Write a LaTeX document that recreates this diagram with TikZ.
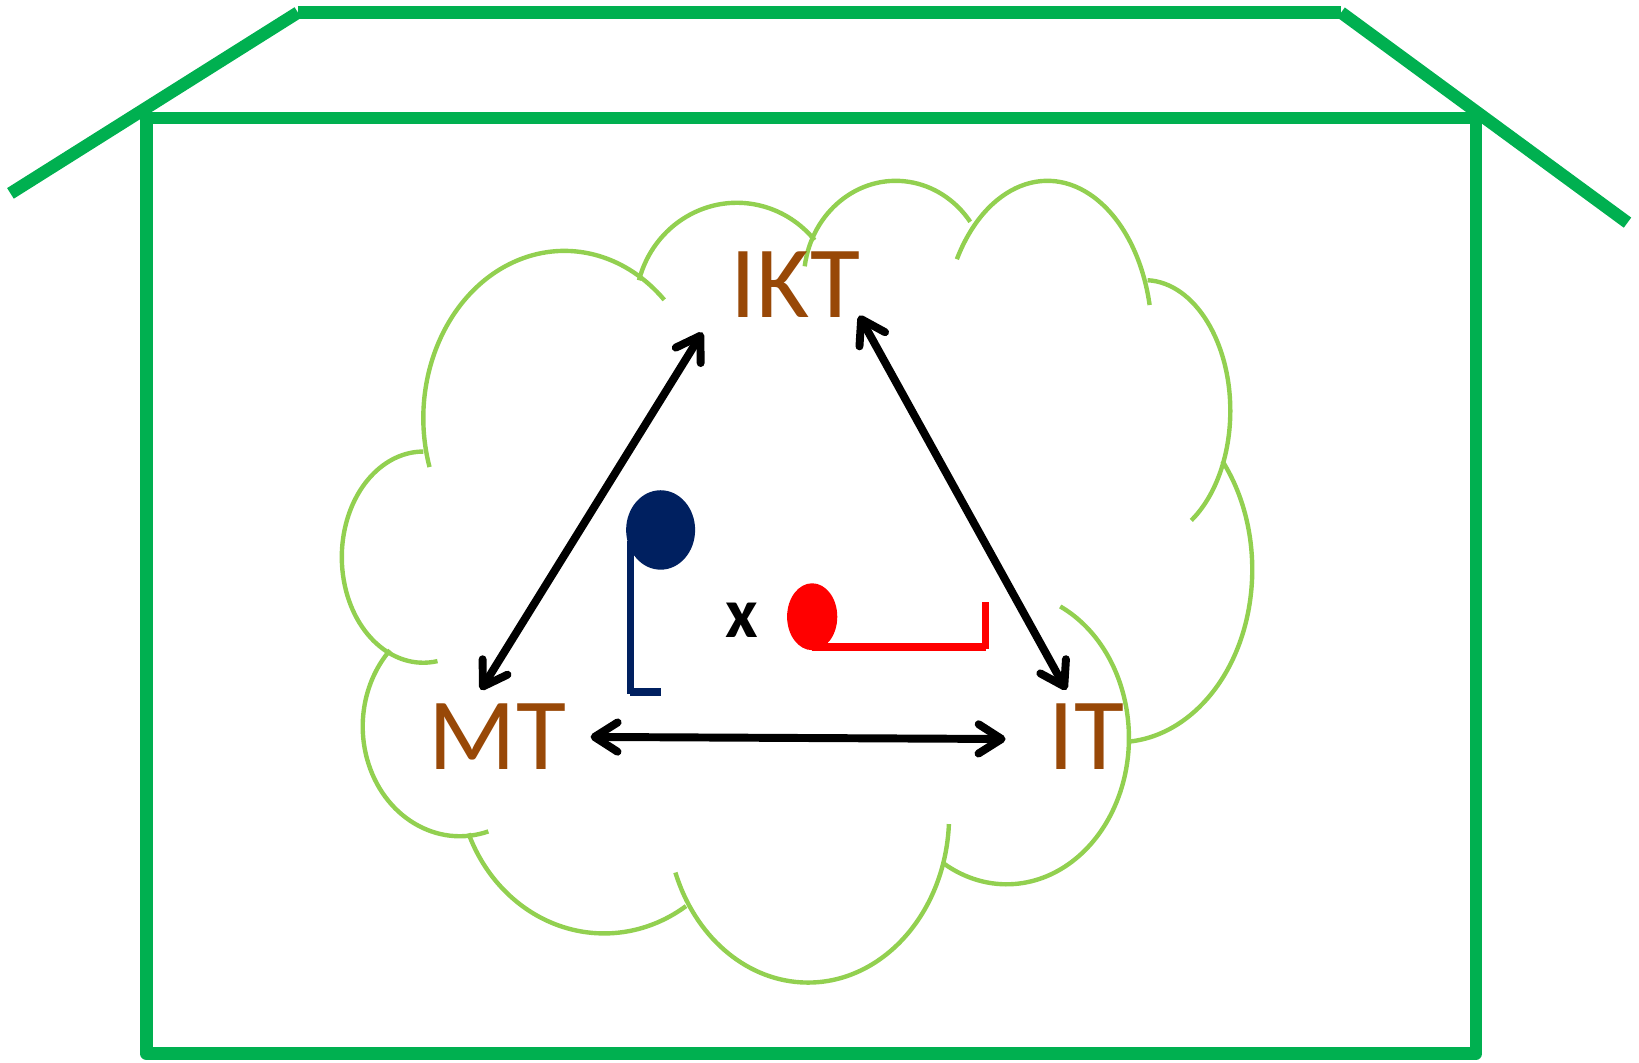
\documentclass[tikz,border=0pt]{standalone}
\usepackage{fontspec}
\setmainfont{Carlito}
\usetikzlibrary{arrows.meta}
\definecolor{housegreen}{HTML}{00B050}
\definecolor{cloudgreen}{HTML}{92D050}
\definecolor{fieldbrown}{HTML}{984807}
\definecolor{navyblue}{HTML}{002060}
% one bump of the cloud: centre, x radius, y radius, start, end
\newcommand{\puff}[5]{\draw[cloudline] ([shift={(#4:#2 and #3)}]#1) arc[start angle=#4,end angle=#5,x radius=#2,y radius=#3];}
\begin{document}
\begin{tikzpicture}[x=0.5pt,y=-0.5pt,
    house/.style={housegreen,line width=6pt},
    cloudline/.style={cloudgreen,line width=2.1pt},
    fieldname/.style={fieldbrown,inner sep=0pt,font=\fontsize{49pt}{49pt}\selectfont},
    link/.style={line width=3.8pt,line cap=round,
      {Straight Barb[round,length=11pt,width=14pt]}-{Straight Barb[round,length=11pt,width=14pt]}}]
  \useasboundingbox (0,0) rectangle (1568,1016);
  % house
  \draw[house] (10,185) -- (285,12);
  \draw[house] (285,12) -- (1283,12);
  \draw[house] (1283,12) -- (1557,213);
  \draw[house,line join=round] (140,113) rectangle (1412,1008);
  % cloud
  \puff{540,400}{135}{160}{163}{315}
  \puff{705,294}{97}{100}{195}{320}
  \puff{857,268}{88}{95}{188}{324}
  \puff{1002,323}{100}{150}{210}{348}
  \puff{1095,393}{82}{125}{272}{417}
  \puff{1070,545}{128}{165}{321}{445}
  \puff{963,706}{117}{140}{296}{481}
  \puff{773,780}{135}{160}{3}{160}
  \puff{578,740}{140}{153}{56}{158}
  \puff{440,695}{93}{105}{73}{224}
  \puff{405,533}{78}{101}{80}{270}
  % fields
  \draw
    (761,272) node[fieldname] (ikt){IKT}
    (476,705) node[fieldname] (mt){MT}
    (1039,705) node[fieldname] (it){IT}
    (710,593) node[inner sep=0pt,font=\fontsize{34pt}{34pt}\selectfont\bfseries] (times){x};
  \coordinate (ikt-l) at (672,318);
  \coordinate (ikt-r) at (822,302);
  \coordinate (mt-u) at (460,660);
  \coordinate (mt-r) at (565,705);
  \coordinate (it-u) at (1020,660);
  \coordinate (it-l) at (962,707);
  \begin{scope}[link]
    \draw (ikt-l) to (mt-u);
    \draw (ikt-r) to (it-u);
    \draw (mt-r) to (it-l);
  \end{scope}
  % blue and red figures
  \fill[navyblue] (632,507) ellipse [x radius=33,y radius=38];
  \draw[navyblue,line width=3.2pt] (603,518) -- (603,664);
  \draw[navyblue,line width=3.7pt] (603,662) -- (632,662);
  \fill[red] (777,590) ellipse [x radius=24,y radius=32];
  \draw[red,line width=3.5pt] (777,619) -- (943,619);
  \draw[red,line width=3.5pt] (943,621) -- (943,576);
\end{tikzpicture}
\end{document}
